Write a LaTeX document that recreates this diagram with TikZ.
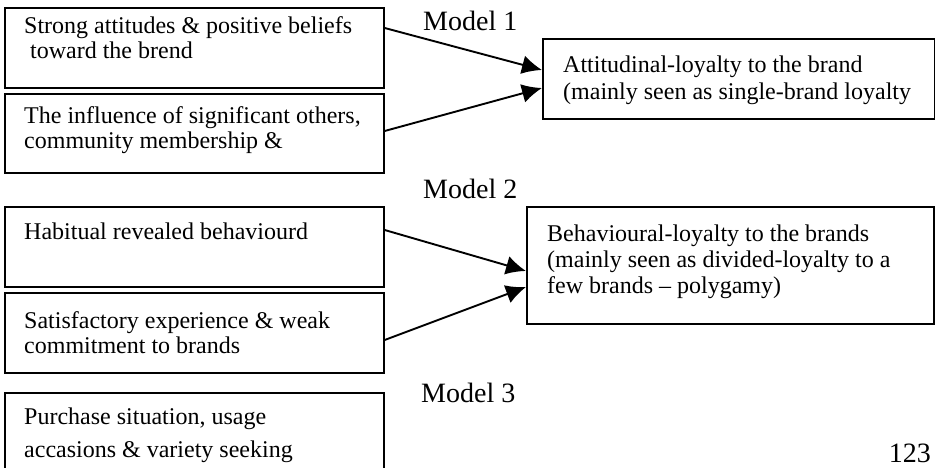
\documentclass[tikz,border=0pt]{standalone}
\usepackage{fontspec}
\setmainfont{Liberation Serif}
\usetikzlibrary{arrows.meta}
\begin{document}
\begin{tikzpicture}[x=1pt,y=-1pt,
  boxshape/.style={draw, line width=1.7pt, inner sep=0pt, anchor=north west},
  boxtext/.style={anchor=base west, inner sep=0pt, font=\fontsize{24}{27}\selectfont},
  modellabel/.style={anchor=base west, inner sep=0pt, font=\fontsize{28}{32}\selectfont},
  conn/.style={line width=1.9pt, -{Latex[length=20pt,width=19pt]}}]
\clip (0,0) rectangle (935,468);
% left boxes
\node[boxshape, minimum width=379pt, minimum height=80pt] (b1) at (4,7) {};
\node[boxshape, minimum width=379pt, minimum height=79pt] (b2) at (4,93) {};
\node[boxshape, minimum width=379pt, minimum height=80pt] (b3) at (4,206) {};
\node[boxshape, minimum width=379pt, minimum height=80pt] (b4) at (4,292) {};
\node[boxshape, minimum width=379pt, minimum height=90pt] (b5) at (4,392) {};
% right boxes
\node[boxshape, minimum width=392pt, minimum height=80pt] (ra) at (542,38) {};
\node[boxshape, minimum width=407pt, minimum height=117pt] (rb) at (526,206) {};
% texts
\node[boxtext] (t1a) at (24,34) {Strong attitudes \& positive beliefs};
\node[boxtext] (t1b) at (24,59) {\ toward the brend};
\node[boxtext] (t2a) at (24,124) {The influence of significant others,};
\node[boxtext] (t2b) at (24,149) {community membership \&};
\node[boxtext] (t3a) at (24,239) {Habitual revealed behaviourd};
\node[boxtext] (t4a) at (24,328) {Satisfactory experience \& weak};
\node[boxtext] (t4b) at (24,353) {commitment to brands};
\node[boxtext] (t5a) at (24,424) {Purchase situation, usage};
\node[boxtext] (t5b) at (24,457) {accasions \& variety seeking};
\node[boxtext] (tra) at (563,73) {Attitudinal-loyalty to the brand};
\node[boxtext] (trb) at (563,100) {(mainly seen as single-brand loyalty};
\node[boxtext] (trc) at (547,241) {Behavioural-loyalty to the brands};
\node[boxtext] (trd) at (547,267) {(mainly seen as divided-loyalty to a};
\node[boxtext] (tre) at (547,293) {few brands -- polygamy)};
% model labels
\node[modellabel] (m1) at (423,31) {Model 1};
\node[modellabel] (m2) at (423,198) {Model 2};
\node[modellabel] (m3) at (421,402) {Model 3};
\node[modellabel, anchor=base east] (pg) at (931,462) {123};
% connectors
\draw[conn] ([yshift=-21pt]b1.north east) -- ([yshift=-32pt]ra.north west);
\draw[conn] ([yshift=-38pt]b2.north east) -- ([yshift=-50pt]ra.north west);
\draw[conn] ([yshift=-24pt]b3.north east) -- ([yshift=-65pt]rb.north west);
\draw[conn] ([yshift=-48pt]b4.north east) -- ([yshift=-81pt]rb.north west);
\end{tikzpicture}
\end{document}
